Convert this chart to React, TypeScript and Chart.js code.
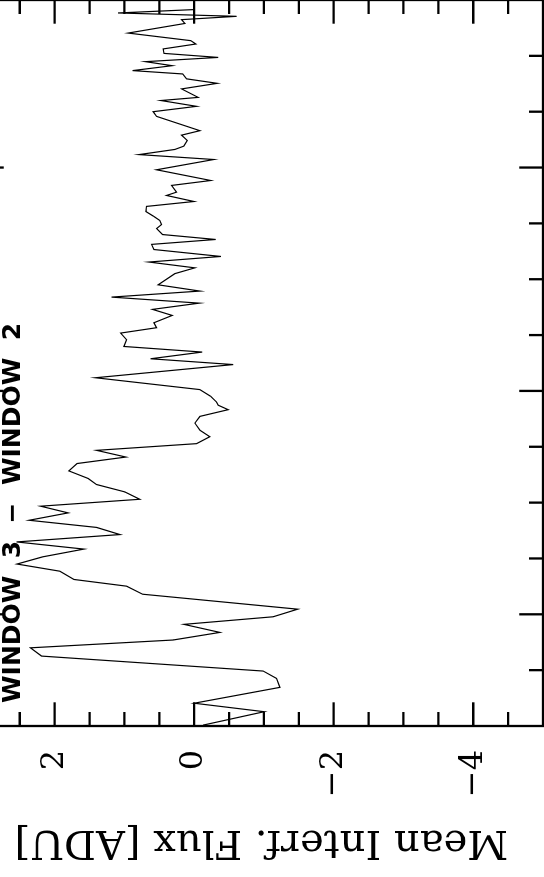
import React, { useEffect, useRef } from "react";
import { Chart, registerables } from "chart.js";

Chart.register(...registerables);

// ---- data (original, un-rotated plot) ----
const sampleTime = [
  -0.496, -0.436, -0.398, -0.327, -0.287, -0.254, -0.187, -0.150, -0.115, -0.081,
  -0.045, -0.011, 0.023, 0.090, 0.126, 0.156, 0.193, 0.225, 0.257, 0.292,
  0.324, 0.357, 0.389, 0.421, 0.454, 0.484, 0.515, 0.548, 0.581, 0.608,
  0.642, 0.675, 0.704, 0.734, 0.764, 0.795, 0.824, 0.856, 0.886, 0.916,
  0.936, 0.950, 0.976, 1.006, 1.059, 1.118, 1.144, 1.174, 1.199, 1.229,
  1.259, 1.283, 1.305, 1.338, 1.365, 1.393, 1.420, 1.447, 1.475, 1.525,
  1.551, 1.577, 1.602, 1.633, 1.656, 1.678, 1.700, 1.727, 1.745, 1.763,
  1.781, 1.803, 1.826, 1.848, 1.875, 1.890, 1.920, 1.942, 1.990, 2.036,
  2.058, 2.081, 2.096, 2.121, 2.145, 2.165, 2.229, 2.250, 2.274, 2.300,
  2.314, 2.352, 2.377, 2.397, 2.419, 2.434, 2.456, 2.474, 2.493, 2.511,
  2.531, 2.553, 2.568, 2.602, 2.645, 2.662, 2.677, 2.692, 2.707,
];

const meanFlux = [
  -0.129, -1.004, 0.0, -1.229, -1.182, -0.989, 2.188, 2.346, 0.301, -0.369,
  0.148, -1.133, -1.483, 0.74, 0.969, 1.725, 1.926, 2.538, 2.174, 1.582,
  2.547, 1.065, 1.4, 2.366, 1.807, 2.202, 0.779, 0.994, 1.4, 1.52,
  1.797, 1.678, 0.979, 1.4, -0.034, -0.225, -0.082, -0.01, -0.082, -0.488,
  -0.344, -0.321, -0.235, -0.082, 1.414, -0.559, 0.625, -0.115, 1.008, 0.969,
  1.055, 0.539, 0.578, 0.315, 0.597, -0.072, 1.184, -0.082, 0.516, 0.277,
  -0.01, 0.65, -0.383, 0.578, 0.611, -0.307, 0.453, 0.539, 0.467, 0.492,
  0.578, 0.693, 0.683, 0.004, 0.396, 0.252, 0.324, -0.239, 0.539, -0.282,
  0.789, 0.277, 0.148, 0.098, 0.181, -0.082, 0.539, 0.588, -0.034, 0.477,
  -0.057, 0.181, -0.33, 0.109, 0.166, 0.883, 0.315, 0.697, -0.344, 0.434,
  0.445, -0.024, 0.047, 0.946, 0.133, 0.181, -0.608, 1.09, 0.014,
];

const yTickValues = [2, 0, -2, -4];
const xRange = [-0.5, 2.75];
const yRange = [-5, 3.07];
const xSteps = [0.25, 1]; // minor, major
const ySteps = [0.5, 2]; // minor, major

const plotTitle = "WINDOW  3  \u2212  WINDOW  2";
const yAxisLabel = "Mean Interf. Flux [ADU]";

// ---- style ----
const MAJOR_LEN = 23.7;
const MINOR_LEN = 14;
const FRAME_W = 2.3;

function isMultiple(v: number, step: number) {
  const r = v / step;
  return Math.abs(r - Math.round(r)) < 1e-6;
}

const pgFramePlugin = {
  id: "pgFrame",
  afterDatasetsDraw(chart: any) {
    const { ctx, chartArea: a, scales } = chart;
    const xs = scales.x;
    const ys = scales.y;
    ctx.save();
    ctx.strokeStyle = "#000";
    ctx.lineWidth = FRAME_W;
    ctx.lineCap = "butt";
    ctx.strokeRect(a.left, a.top, a.right - a.left, a.bottom - a.top);
    ctx.beginPath();
    const [xMinor, xMajor] = xSteps;
    for (let i = Math.ceil(xRange[0] / xMinor); i * xMinor <= xRange[1] + 1e-9; i++) {
      const v = i * xMinor;
      if (v <= xRange[0] + 1e-9 || v >= xRange[1] - 1e-9) continue;
      const p = xs.getPixelForValue(v);
      const len = isMultiple(v, xMajor) ? MAJOR_LEN : MINOR_LEN;
      ctx.moveTo(p, a.bottom);
      ctx.lineTo(p, a.bottom - len);
      ctx.moveTo(p, a.top);
      ctx.lineTo(p, a.top + len);
    }
    const [yMinor, yMajor] = ySteps;
    for (let i = Math.ceil(yRange[0] / yMinor); i * yMinor <= yRange[1] + 1e-9; i++) {
      const v = i * yMinor;
      if (v <= yRange[0] + 1e-9 || v >= yRange[1] - 1e-9) continue;
      const p = ys.getPixelForValue(v);
      const len = isMultiple(v, yMajor) ? MAJOR_LEN : MINOR_LEN;
      ctx.moveTo(a.left, p);
      ctx.lineTo(a.left + len, p);
      ctx.moveTo(a.right, p);
      ctx.lineTo(a.right - len, p);
    }
    ctx.stroke();

    // title inside the frame, top-left
    ctx.fillStyle = "#000";
    ctx.font = "bold 25px 'DejaVu Sans'";
    ctx.textAlign = "left";
    ctx.textBaseline = "alphabetic";
    ctx.fillText(plotTitle, a.left + 23, a.top + 40);
    ctx.restore();
  },
};

export default function App() {
  const canvasRef = useRef<HTMLCanvasElement | null>(null);

  useEffect(() => {
    const canvas = canvasRef.current;
    if (!canvas) return;
    const points = sampleTime.map((t, i) => ({ x: t, y: meanFlux[i] }));
    const chart = new Chart(canvas, {
      type: "line",
      data: {
        datasets: [
          {
            data: points,
            borderColor: "#000",
            borderWidth: 1.2,
            pointRadius: 0,
            tension: 0,
            fill: false,
          },
        ],
      },
      options: {
        animation: false,
        responsive: true,
        maintainAspectRatio: false,
        layout: { padding: { left: 10, right: 20, top: 30, bottom: 10 } },
        plugins: {
          legend: { display: false },
          tooltip: { enabled: false },
          title: { display: false },
        },
        scales: {
          x: {
            type: "linear",
            min: xRange[0],
            max: xRange[1],
            ticks: { display: false },
            grid: { display: false },
            border: { display: false },
            afterFit(s: any) {
              s.height = 27;
              s.paddingLeft = 0;
              s.paddingRight = 0;
            },
          },
          y: {
            type: "linear",
            min: yRange[0],
            max: yRange[1],
            afterBuildTicks(s: any) {
              s.ticks = yTickValues.map((v) => ({ value: v }));
            },
            ticks: {
              color: "#000",
              padding: 24,
              font: { family: "'DejaVu Serif'", size: 32 },
              callback: (v: any) => String(v).replace("-", "\u2212"),
            },
            grid: { display: false, drawTicks: false },
            border: { display: false },
            title: {
              display: true,
              text: yAxisLabel,
              color: "#000",
              font: { family: "'DejaVu Serif'", size: 40 },
              padding: { top: 25, bottom: 0 },
            },
            afterFit(s: any) {
              s.width = 164;
              s.paddingTop = 0;
              s.paddingBottom = 0;
            },
          },
        },
      },
      plugins: [pgFramePlugin],
    });
    return () => chart.destroy();
  }, []);

  return (
    <div
      style={{
        position: "fixed",
        left: 0,
        top: 0,
        width: 544,
        height: 877,
        overflow: "hidden",
        background: "#fff",
      }}
    >
      <div
        style={{
          position: "absolute",
          left: 0,
          top: 0,
          width: 920,
          height: 630,
          transformOrigin: "0 0",
          transform: "translate(-50px, 900px) rotate(-90deg)",
        }}
      >
        <canvas ref={canvasRef} />
      </div>
    </div>
  );
}
